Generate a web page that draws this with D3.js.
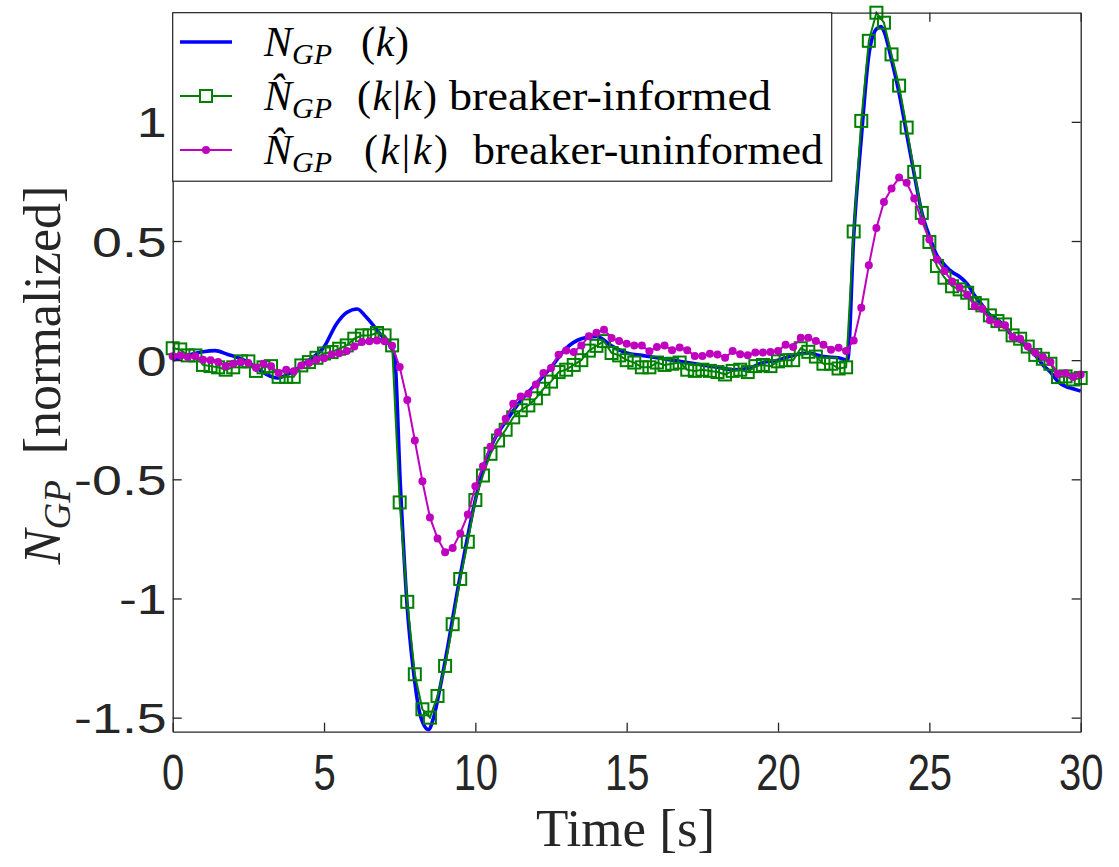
<!DOCTYPE html>
<html><head><meta charset="utf-8">
<script src="https://cdn.jsdelivr.net/npm/d3@7"></script>
<style>html,body{margin:0;padding:0;background:#fff;} svg{display:block}</style>
</head><body>
<svg id="chart" width="1119" height="867"></svg>
<script>
// ---------- data ----------
const xTicks = [0, 5, 10, 15, 20, 25, 30];
const xTickLabels = ["0", "5", "10", "15", "20", "25", "30"];
const yTicks = [-1.5, -1, -0.5, 0, 0.5, 1];
const yTickLabels = ["-1.5", "-1", "-0.5", "0", "0.5", "1"];

// true signal N_GP(k)
const trueTime = [0, 0.5, 1.0, 1.4, 1.8, 2.3, 2.75, 3.1, 3.45, 4.0,
  4.5, 5.0, 5.4, 5.75, 6.1, 6.4, 6.85, 7.25, 7.33, 7.52,
  7.74, 7.96, 8.18, 8.45, 8.62, 8.84, 9.12, 9.39, 9.67, 9.94,
  10.27, 10.6, 11.05, 11.5, 12.0, 12.5, 13.0, 13.5, 14.0, 14.5,
  15.0, 15.5, 16.0, 16.5, 17.0, 17.5, 18.0, 18.5, 19.0, 19.5,
  20.0, 20.5, 21.0, 21.5, 22.0, 22.3, 22.5, 22.75, 23.0, 23.25,
  23.4, 23.5, 23.75, 24.0, 24.25, 24.5, 24.75, 25.0, 25.25, 25.5,
  25.75, 26.0, 26.25, 26.5, 26.75, 27.0, 27.25, 27.5, 27.75, 28.0,
  28.25, 28.5, 28.75, 29.0, 29.25, 29.5, 29.75, 30.0];
const trueValues = [0.0, 0.02, 0.035, 0.04, 0.025, 0.003, -0.03, -0.06, -0.075, -0.045,
  0.0, 0.055, 0.15, 0.20, 0.215, 0.18, 0.11, 0.045, 0.02, -0.52,
  -1.02, -1.31, -1.49, -1.55, -1.50, -1.37, -1.18, -0.98, -0.79, -0.62,
  -0.45, -0.34, -0.25, -0.17, -0.10, -0.03, 0.05, 0.09, 0.10, 0.06,
  0.03, 0.02, 0.01, 0.0, -0.01, -0.02, -0.03, -0.04, -0.035, -0.01,
  0.0, 0.02, 0.03, 0.015, 0.01, 0.0, 0.52, 0.93, 1.28, 1.39,
  1.40, 1.38, 1.26, 1.12, 0.95, 0.78, 0.62, 0.52, 0.44, 0.40,
  0.37, 0.35, 0.32, 0.27, 0.23, 0.19, 0.17, 0.14, 0.10, 0.08,
  0.05, 0.02, -0.02, -0.05, -0.09, -0.11, -0.12, -0.13];

// estimator sample times
const estTime = [0, 0.25, 0.5, 0.75, 1, 1.25, 1.5, 1.75, 2, 2.25, 2.5, 2.75, 3, 3.25, 3.5, 3.75,
  4, 4.25, 4.5, 4.75, 5, 5.25, 5.5, 5.75, 6, 6.25, 6.5, 6.75, 7, 7.25, 7.5, 7.75,
  8, 8.25, 8.5, 8.75, 9, 9.25, 9.5, 9.75, 10, 10.25, 10.5, 10.75, 11, 11.25, 11.5, 11.75,
  12, 12.25, 12.5, 12.75, 13, 13.25, 13.5, 13.75, 14, 14.25, 14.5, 14.75, 15, 15.25, 15.5, 15.75,
  16, 16.25, 16.5, 16.75, 17, 17.25, 17.5, 17.75, 18, 18.25, 18.5, 18.75, 19, 19.25, 19.5, 19.75,
  20, 20.25, 20.5, 20.75, 21, 21.25, 21.5, 21.75, 22, 22.25, 22.5, 22.75, 23, 23.25, 23.5, 23.75,
  24, 24.25, 24.5, 24.75, 25, 25.25, 25.5, 25.75, 26, 26.25, 26.5, 26.75, 27, 27.25, 27.5, 27.75,
  28, 28.25, 28.5, 28.75, 29, 29.25, 29.5, 29.75, 30];

const informedValues = [0.05, 0.045, 0.02, 0.02, -0.02, -0.025, -0.03, -0.04, -0.03, -0.005, -0.005, -0.045, -0.03, -0.025, -0.07, -0.07,
  -0.07, -0.022, -0.008, 0.01, 0.028, 0.034, 0.048, 0.062, 0.09, 0.104, 0.104, 0.114, 0.104, 0.062, -0.597, -1.014,
  -1.318, -1.465, -1.50, -1.409, -1.283, -1.108, -0.918, -0.762, -0.587, -0.484, -0.393, -0.337, -0.292, -0.24, -0.21, -0.19,
  -0.16, -0.12, -0.09, -0.05, -0.04, -0.02, 0.0, 0.04, 0.06, 0.08, 0.03, 0.02, 0.0, -0.01, -0.03, -0.03,
  -0.01, -0.02, -0.015, -0.01, -0.04, -0.045, -0.04, -0.045, -0.05, -0.06, -0.045, -0.04, -0.05, -0.025, -0.02, -0.025,
  -0.005, 0.0, 0.0, 0.05, 0.035, 0.015, -0.015, -0.015, -0.035, -0.03, 0.54, 1.004, 1.340, 1.458, 1.416, 1.283,
  1.152, 0.976, 0.790, 0.618, 0.496, 0.395, 0.346, 0.310, 0.297, 0.283, 0.240, 0.230, 0.188, 0.164, 0.150, 0.104,
  0.090, 0.057, 0.022, 0.006, -0.015, -0.071, -0.068, -0.081, -0.075];

const uninformedValues = [0.016, 0.020, 0.013, 0.016, 0.002, 0.0, -0.008, -0.026, -0.015, -0.008, -0.012, -0.032, -0.015, -0.026, -0.054, -0.040,
  -0.046, -0.022, -0.012, 0.002, 0.008, 0.024, 0.029, 0.038, 0.057, 0.076, 0.079, 0.083, 0.079, 0.060, -0.029, -0.167,
  -0.337, -0.508, -0.660, -0.748, -0.806, -0.788, -0.727, -0.648, -0.529, -0.445, -0.363, -0.302, -0.246, -0.183, -0.152, -0.141,
  -0.102, -0.054, -0.033, 0.023, 0.041, 0.034, 0.062, 0.100, 0.115, 0.128, 0.093, 0.080, 0.069, 0.062, 0.062, 0.037,
  0.055, 0.062, 0.042, 0.053, 0.042, 0.018, 0.018, 0.027, 0.024, 0.010, 0.038, 0.025, 0.021, 0.032, 0.032, 0.034,
  0.038, 0.065, 0.055, 0.094, 0.094, 0.080, 0.065, 0.044, 0.052, 0.038, 0.083, 0.220, 0.398, 0.555, 0.664, 0.720,
  0.766, 0.744, 0.678, 0.584, 0.506, 0.422, 0.374, 0.330, 0.304, 0.275, 0.226, 0.216, 0.167, 0.153, 0.146, 0.097,
  0.090, 0.057, 0.031, 0.013, -0.008, -0.057, -0.055, -0.071, -0.060];

const legendSuffixes = ["", "breaker-informed", "breaker-uninformed"];
const colors = { truth: "#0000FF", informed: "#008000", uninformed: "#BF00BF" };

// ---------- layout ----------
const svg = d3.select("#chart");
const plot = { left: 172.7, right: 1080.7, top: 12.7, bottom: 731.7 };
const x = d3.scaleLinear().domain([0, 30]).range([plot.left, plot.right]);
const y = d3.scaleLinear().domain([-1.559, 1.458]).range([plot.bottom, plot.top]);
const axisColor = "#262626";

// ---------- data marks ----------
const truthPts = trueTime.map((t, i) => [t, trueValues[i]]);
const infPts = estTime.map((t, i) => [t, informedValues[i]]);
const uninfPts = estTime.map((t, i) => [t, uninformedValues[i]]);

const lineSmooth = d3.line().x(d => x(d[0])).y(d => y(d[1])).curve(d3.curveMonotoneX);
const lineLin = d3.line().x(d => x(d[0])).y(d => y(d[1]));

svg.append("path").attr("d", lineSmooth(truthPts))
  .attr("fill", "none").attr("stroke", colors.truth).attr("stroke-width", 3.6)
  .attr("stroke-linejoin", "round");

svg.append("path").attr("d", lineLin(infPts))
  .attr("fill", "none").attr("stroke", colors.informed).attr("stroke-width", 2);
svg.append("g").selectAll("rect").data(infPts).join("rect")
  .attr("x", d => x(d[0]) - 6).attr("y", d => y(d[1]) - 6)
  .attr("width", 12).attr("height", 12)
  .attr("fill", "none").attr("stroke", colors.informed).attr("stroke-width", 2);

svg.append("path").attr("d", lineLin(uninfPts))
  .attr("fill", "none").attr("stroke", colors.uninformed).attr("stroke-width", 2);
svg.append("g").selectAll("circle").data(uninfPts).join("circle")
  .attr("cx", d => x(d[0])).attr("cy", d => y(d[1])).attr("r", 4)
  .attr("fill", colors.uninformed);

// ---------- axes ----------
function styleAxis(g) {
  g.select(".domain").attr("stroke", axisColor).attr("stroke-width", 1.3);
  g.selectAll(".tick line").attr("stroke", axisColor).attr("stroke-width", 1.3);
}
const tickLen = 9;
const sans = "'Liberation Sans', Arial, sans-serif";
const gx = svg.append("g").attr("transform", `translate(0,${plot.bottom})`)
  .call(d3.axisBottom(x).tickValues(xTicks).tickSizeInner(-tickLen).tickSizeOuter(0)
    .tickFormat((d, i) => xTickLabels[i]));
styleAxis(gx);
gx.selectAll(".tick text")
  .attr("y", null).attr("dy", null)
  .attr("transform", "translate(0,58) scale(1,1.25)")
  .attr("fill", axisColor)
  .style("font-family", sans).style("font-size", "40px");

const gxt = svg.append("g").attr("transform", `translate(0,${plot.top})`)
  .call(d3.axisTop(x).tickValues(xTicks).tickSizeInner(-tickLen).tickSizeOuter(0).tickFormat(""));
styleAxis(gxt);

const gy = svg.append("g").attr("transform", `translate(${plot.left},0)`)
  .call(d3.axisLeft(y).tickValues(yTicks).tickSizeInner(-tickLen).tickSizeOuter(0)
    .tickFormat((d, i) => yTickLabels[i]));
styleAxis(gy);
gy.selectAll(".tick text")
  .attr("x", null).attr("dy", null)
  .attr("transform", "translate(-6,15) scale(1.28,1)")
  .attr("text-anchor", "end")
  .attr("fill", axisColor)
  .style("font-family", sans).style("font-size", "42px");

const gyr = svg.append("g").attr("transform", `translate(${plot.right},0)`)
  .call(d3.axisRight(y).tickValues(yTicks).tickSizeInner(-tickLen).tickSizeOuter(0).tickFormat(""));
styleAxis(gyr);

// axis labels
const serif = "'Liberation Serif', 'Times New Roman', serif";
svg.append("text").attr("x", (plot.left + plot.right) / 2 - 1).attr("y", 846)
  .attr("text-anchor", "middle").attr("fill", axisColor)
  .style("font-family", serif).style("font-size", "53px").text("Time [s]");

const yl = svg.append("text").attr("transform", "translate(60,375) rotate(-90)")
  .attr("text-anchor", "middle").attr("fill", axisColor)
  .style("font-family", serif).style("font-size", "52px");
yl.append("tspan").style("font-style", "italic").text("N");
yl.append("tspan").style("font-style", "italic").style("font-size", "37px").attr("dy", 10).text("GP");
yl.append("tspan").attr("dy", -10).text("\u2002[normalized]");

// ---------- legend ----------
const leg = svg.append("g");
leg.append("rect").attr("x", plot.left).attr("y", plot.top).attr("width", 659).attr("height", 168.5)
  .attr("fill", "#fff").attr("stroke", axisColor).attr("stroke-width", 1.2);

const rows = [
  { key: "truth", y: 42, marker: "none", base: 56, hat: false, cond: false, parenX: 361, parenLen: 48, sufX: 0, sufLen: 0 },
  { key: "informed", y: 96, marker: "square", base: 110, hat: true, cond: true, parenX: 357, parenLen: 80, sufX: 449, sufLen: 322 },
  { key: "uninformed", y: 150, marker: "dot", base: 164, hat: true, cond: true, parenX: 364, parenLen: 84, sufX: 473, sufLen: 350 }
];
rows.forEach((r, i) => {
  leg.append("line").attr("x1", 180).attr("x2", 232).attr("y1", r.y).attr("y2", r.y)
    .attr("stroke", colors[r.key]).attr("stroke-width", r.key === "truth" ? 3.6 : 2);
  if (r.marker === "square") {
    leg.append("rect").attr("x", 200).attr("y", r.y - 6).attr("width", 12).attr("height", 12)
      .attr("fill", "#fff").attr("stroke", colors[r.key]).attr("stroke-width", 2);
  } else if (r.marker === "dot") {
    leg.append("circle").attr("cx", 206).attr("cy", r.y).attr("r", 4).attr("fill", colors[r.key]);
  }
  const fs = 42;
  const t = leg.append("text").attr("x", 264).attr("y", r.base).attr("fill", "#000")
    .style("font-family", serif).style("font-size", fs + "px");
  t.append("tspan").style("font-style", "italic").text(r.hat ? "N\u0302" : "N");
  t.append("tspan").style("font-style", "italic").style("font-size", "30px").attr("dy", 8).text("GP");

  const p = leg.append("text").attr("x", r.parenX).attr("y", r.base).attr("fill", "#000")
    .attr("textLength", r.parenLen).attr("lengthAdjust", "spacing")
    .style("font-family", serif).style("font-size", fs + "px");
  p.append("tspan").text("(");
  p.append("tspan").style("font-style", "italic").text("k");
  if (r.cond) {
    p.append("tspan").text("|");
    p.append("tspan").style("font-style", "italic").text("k");
  }
  p.append("tspan").text(")");

  if (legendSuffixes[i]) {
    leg.append("text").attr("x", r.sufX).attr("y", r.base).attr("fill", "#000")
      .attr("textLength", r.sufLen).attr("lengthAdjust", "spacingAndGlyphs")
      .style("font-family", serif).style("font-size", fs + "px")
      .text(legendSuffixes[i]);
  }
});
</script>
</body></html>
